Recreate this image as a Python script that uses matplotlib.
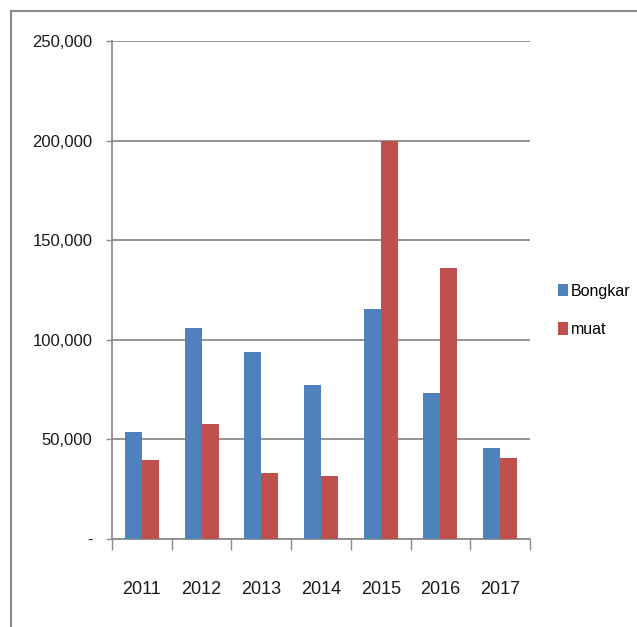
import numpy as np
import matplotlib
matplotlib.use("Agg")
import matplotlib.pyplot as plt
from matplotlib.lines import Line2D
from matplotlib.ticker import FuncFormatter

years = ["2011", "2012", "2013", "2014", "2015", "2016", "2017"]
bongkar = [53600, 105800, 93700, 77500, 115500, 73100, 45800]
muat = [39500, 57900, 33000, 31800, 199800, 136200, 40500]

blue = "#4F81BD"
red = "#C0504D"
grid_col = "#8C8C8C"

plt.rcParams["font.family"] = ["Liberation Sans", "DejaVu Sans"]

fig = plt.figure(figsize=(6.37, 6.27), dpi=100)
ax = fig.add_axes([0.1758, 0.1404, 0.6562, 0.7943])

x = np.arange(len(years))
w = 0.285
ax.bar(x - w / 2, bongkar, w, color=blue, label="Bongkar", zorder=3)
ax.bar(x + w / 2, muat, w, color=red, label="muat", zorder=3)

ax.set_xlim(-0.5, len(years) - 0.5)
ax.set_ylim(0, 250000)
ax.set_yticks(np.arange(0, 250001, 50000))

def fmt(v, pos):
    if v == 0:
        return "-"
    return "{:,.0f}".format(v)

ax.yaxis.set_major_formatter(FuncFormatter(fmt))
ax.yaxis.grid(True, color=grid_col, linewidth=1.3, zorder=0)

# category labels in the middle, tick marks on boundaries
ax.set_xticks(x)
ax.set_xticklabels(years)
ax.set_xticks(np.arange(-0.5, len(years), 1), minor=True)
ax.tick_params(axis="x", which="major", length=0, pad=30, labelsize=13, labelcolor="#1a1a1a")
ax.tick_params(axis="x", which="minor", length=8, width=1, color=grid_col, direction="out")
ax.tick_params(axis="y", length=4, width=1, color=grid_col, direction="out", pad=10,
               labelsize=12, labelcolor="#1a1a1a")

for s in ["top", "right"]:
    ax.spines[s].set_visible(False)
for s in ["left", "bottom"]:
    ax.spines[s].set_color(grid_col)
    ax.spines[s].set_linewidth(1.3)

leg = ax.legend(loc="center left", bbox_to_anchor=(0.866, 0.505), bbox_transform=fig.transFigure,
                frameon=False, fontsize=11.5, handlelength=0.6, handleheight=0.8,
                handletextpad=0.2, labelspacing=1.45, borderaxespad=0)

# outer frame lines (top and left)
fig.add_artist(Line2D([11 / 637, 1], [1 - 11 / 627, 1 - 11 / 627], color="#8A8A8A", lw=1.5,
                      transform=fig.transFigure))
fig.add_artist(Line2D([11 / 637, 11 / 637], [0, 1 - 11 / 627], color="#8A8A8A", lw=1.5,
                      transform=fig.transFigure))

fig.savefig("out.png", dpi=100)
